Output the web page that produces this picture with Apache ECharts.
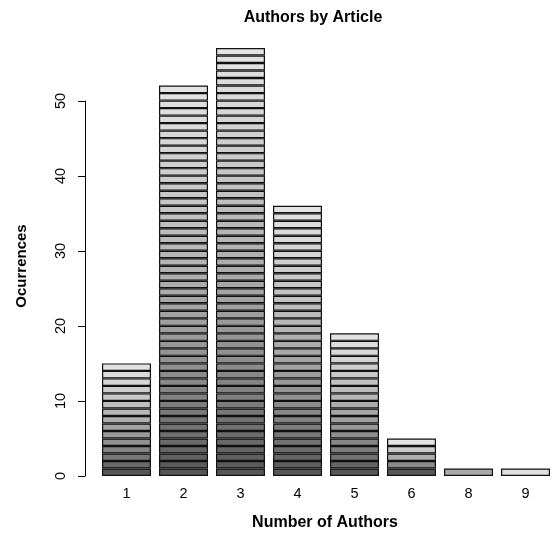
<!DOCTYPE html>
<html>
<head>
<meta charset="utf-8">
<script src="https://cdn.jsdelivr.net/npm/echarts@6/dist/echarts.min.js"></script>
<style>html,body{margin:0;padding:0;background:#fff;}#c{width:554px;height:545px;}</style>
</head>
<body>
<div id="c"></div>
<script>
var categories = ['1', '2', '3', '4', '5', '6', '8', '9'];
var occurrences = [15, 52, 57, 36, 19, 5, 1, 1];
var yTicks = [0, 10, 20, 30, 40, 50];

var FONT = '"Liberation Sans", Arial, sans-serif';

function grayLevel(t) {
  var s = 0.34, e = 0.89, g = 2.2;
  var v = Math.pow(Math.pow(s, g) + t * (Math.pow(e, g) - Math.pow(s, g)), 1 / g);
  var c = Math.round(v * 255);
  return 'rgb(' + c + ',' + c + ',' + c + ')';
}
var singleShade = ['rgb(170,170,170)', 'rgb(222,222,222)'];
function shade(i, k) {
  var n = occurrences[i];
  if (n === 1) {
    var idx = 0;
    for (var j = 0; j < i; j++) if (occurrences[j] === 1) idx++;
    return singleShade[idx % singleShade.length];
  }
  return grayLevel(k / (n - 1));
}

var maxN = Math.max.apply(null, occurrences);
var series = [];
for (var k = 0; k < maxN; k++) {
  series.push({
    type: 'bar',
    stack: 'total',
    xAxisIndex: 0,
    yAxisIndex: 0,
    barWidth: 49,
    silent: true,
    animation: false,
    itemStyle: { borderColor: '#111', borderWidth: 1.2 },
    data: occurrences.map(function (v, i) {
      return k < v ? { value: 1, itemStyle: { color: shade(i, k) } } : '-';
    })
  });
}

var chart = echarts.init(document.getElementById('c'), null, { renderer: 'canvas' });
chart.setOption({
  backgroundColor: '#ffffff',
  animation: false,
  title: {
    text: 'Authors by Article',
    left: 308,
    top: 5,
    textAlign: 'center',
    textStyle: { fontFamily: FONT, fontSize: 16, fontWeight: 'bold', color: '#000' }
  },
  grid: [
    { left: 98, right: -4, top: 25.5, bottom: 69 },
    { left: 85, width: 10, top: 101, bottom: 69 }
  ],
  xAxis: [
    {
      type: 'category',
      gridIndex: 0,
      data: categories,
      axisLine: { show: false },
      axisTick: { show: false },
      axisLabel: { fontFamily: FONT, fontSize: 14.5, color: '#000', margin: 10 }
    },
    { type: 'value', gridIndex: 1, show: false, min: 0, max: 1 }
  ],
  yAxis: [
    { type: 'value', gridIndex: 0, min: 0, max: 60, show: false },
    {
      type: 'value',
      gridIndex: 1,
      min: 0,
      max: 50,
      interval: 10,
      data: yTicks,
      axisLine: { show: true, lineStyle: { color: '#000', width: 1 } },
      axisTick: { show: true, length: 7, lineStyle: { color: '#000', width: 1 } },
      axisLabel: { rotate: 90, fontFamily: FONT, fontSize: 14.5, color: '#000', margin: 17 },
      splitLine: { show: false }
    }
  ],
  graphic: [
    {
      type: 'text',
      x: 22, y: 266,
      rotation: Math.PI / 2,
      style: { text: 'Ocurrences', fontFamily: FONT, fontSize: 15, fontWeight: 'bold', fill: '#000', align: 'center', verticalAlign: 'middle' }
    },
    {
      type: 'text',
      x: 325, y: 523,
      style: { text: 'Number of Authors', fontFamily: FONT, fontSize: 16, fontWeight: 'bold', fill: '#000', align: 'center', verticalAlign: 'middle' }
    }
  ],
  series: series
});
</script>
</body>
</html>
